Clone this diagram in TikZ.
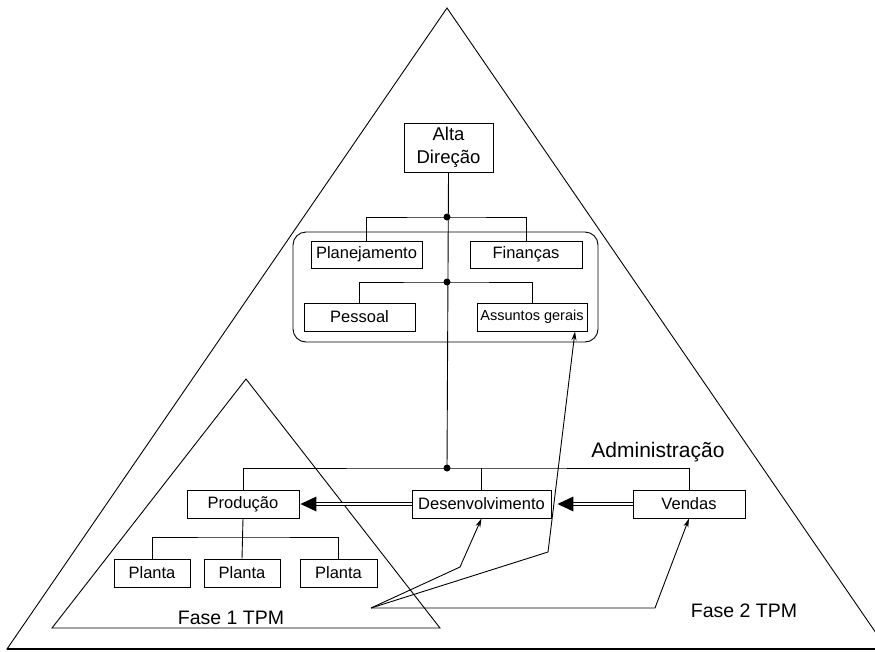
\documentclass[tikz,border=0pt]{standalone}
\usepackage{fontspec}
\setmainfont{Liberation Sans}
\usetikzlibrary{arrows.meta}
\tikzset{
  thin line/.style={line width=0.9pt},
  box/.style={draw, thin line, fill=white, inner sep=0pt, minimum height=28, font=\fontsize{16.5}{19}\selectfont},
  junction/.style={circle, fill, inner sep=0pt, minimum size=7},
  link/.style={thin line, -{Stealth[length=9pt,width=5pt]}},
  dbl/.style={double, double distance=1.8pt, line width=0.8pt},
  big label/.style={font=\fontsize{19.5}{22}\selectfont}
}
\begin{document}
\begin{tikzpicture}[x=1pt,y=-1pt]
\useasboundingbox (0,0) rectangle (875,651);

% Outer triangle (Fase 2), cut off at the right edge of the sheet
\begin{scope}
  \clip (0,0) rectangle (875,651);
  \draw[thin line] (447,8) -- (887,649) -- (7,649) -- cycle;
  \draw[line width=1.4pt] (7,649) -- (887,649);
\end{scope}

% Inner triangle (Fase 1)
\draw[thin line] (246,379) -- (440,628) -- (52,628) -- cycle;

% Staff group frame
\node[draw, thin line, rounded corners=13, minimum width=305, minimum height=110] (grp) at (445.5,287) {};

% Boxes
\node[box, minimum width=89, minimum height=49, align=center, font=\fontsize{18.5}{22.5}\selectfont] (alta) at (448.5,147.5) {Alta\\Direção};
\node[box, minimum width=111, minimum height=27] (plan) at (366.5,254.5) {Planejamento};
\node[box, minimum width=112, minimum height=27] (fin) at (526,254.5) {Finanças};
\node[box, minimum width=111] (pess) at (359.5,317) {Pessoal};
\node[box, minimum width=110, font=\fontsize{14.5}{17}\selectfont] (assun) at (532,317) {Assuntos gerais};
\node[box, minimum width=112] (prod) at (243,504) {Produção};
\node[box, minimum width=139] (des) at (481.5,504) {Desenvolvimento};
\node[box, minimum width=112] (vend) at (689,504) {Vendas};
\node[box, minimum width=76] (pl1) at (152,573) {Planta};
\node[box, minimum width=76] (pl2) at (242,573) {Planta};
\node[box, minimum width=77] (pl3) at (338.5,573) {Planta};

% Junction points
\node[junction] (j1) at (447,217) {};
\node[junction] (j2) at (447,282) {};
\node[junction] (j3) at (447,468) {};
\coordinate (j4) at (242,537);

% Hierarchy lines
\draw[thin line] (alta.south) -- (j3.center);
\draw[thin line] (plan.north) |- (j1.center) -| (fin.north);
\draw[thin line] (pess.north) |- (j2.center) -| (assun.north);
\draw[thin line] (prod.north) |- (j3.center) -| (vend.north);
\draw[thin line] (des.north) -- (des.north |- j3.center);
\draw[thin line] (prod.south) -- (pl2.north);
\draw[thin line] (pl1.north) |- (j4) -| (pl3.north);

% Double arrows between departments
\draw[dbl] (des.west) -- ([xshift=16]prod.east);
\fill ([xshift=1]prod.east) -- ++(16,-7.5) -- ++(0,15) -- cycle;
\draw[dbl] (vend.west) -- ([xshift=17]des.east);
\fill ([xshift=6]des.east) -- ++(16,-7.5) -- ++(0,15) -- cycle;

% Links from the Fase 1 area
\coordinate (src) at (371,608);
\coordinate (b1) at (460,567);
\coordinate (b2) at (548,552);
\coordinate (b3) at (655,608);
\draw[link] (src) -- (b1) -- (des.south);
\draw[link] (src) -- (b2) -- ([xshift=43]assun.south);
\draw[link] (src) -- (b3) -- (vend.south);

% Labels
\node[font=\fontsize{21}{24}\selectfont] (adm) at (658,452) {Administração};
\node[big label] (f1) at (231,618) {Fase 1 TPM};
\node[big label] (f2) at (744,611) {Fase 2 TPM};
\end{tikzpicture}
\end{document}
